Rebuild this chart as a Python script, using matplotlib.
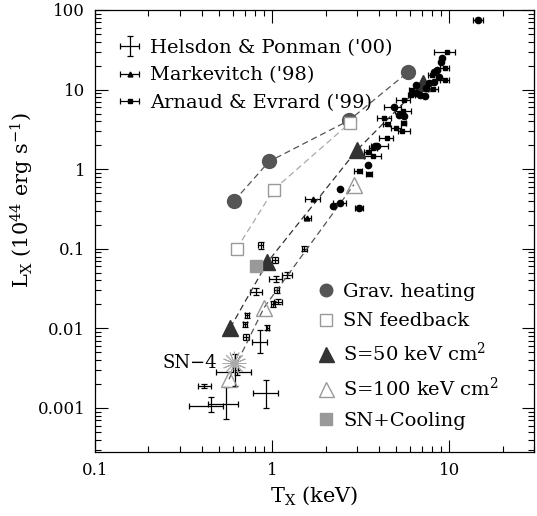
import matplotlib.pyplot as plt
from matplotlib.ticker import FuncFormatter, LogLocator

plt.rcParams['font.family'] = 'DejaVu Serif'
plt.rcParams['mathtext.fontset'] = 'dejavuserif'

# -----------------------
# Model tracks
# -----------------------
grav_T = [0.61, 0.96, 2.71, 5.8]
grav_L = [0.40, 1.25, 4.1, 16.4]
snf_T = [0.63, 1.02, 2.74]
snf_L = [0.10, 0.555, 3.8]
s50_T = [0.58, 0.94, 3.0, 7.1]
s50_L = [0.0102, 0.068, 1.73, 12.0]
s100_T = [0.57, 0.90, 2.89]
s100_L = [0.0023, 0.0183, 0.64]
sncool_T = [0.81]
sncool_L = [0.060]
sn4_T = [0.61]
sn4_L = [0.0037]

# -----------------------
# Helsdon & Ponman ('00): T, L with lower/upper bounds
# -----------------------
hp_T = [0.86, 1.52, 1.04, 1.21, 1.05, 1.06, 0.81, 1.08, 1.01, 0.72, 0.70, 0.94, 0.71,
        0.85, 0.635, 0.62, 0.41, 0.92, 0.45, 0.55]
hp_Tlo = [0.83, 1.47, 1.00, 1.13, 0.96, 1.03, 0.75, 1.03, 0.98, 0.70, 0.68, 0.92, 0.68,
          0.77, 0.48, 0.60, 0.38, 0.775, 0.34, 0.436]
hp_Thi = [0.89, 1.57, 1.08, 1.30, 1.14, 1.09, 0.87, 1.13, 1.04, 0.74, 0.72, 0.96, 0.74,
          0.94, 0.76, 0.64, 0.45, 1.08, 0.53, 0.64]
hp_L = [0.111, 0.10, 0.072, 0.047, 0.042, 0.0303, 0.029, 0.0216, 0.0201, 0.0146, 0.0113, 0.0102, 0.0077,
        0.0068, 0.0028, 0.0031, 0.0019, 0.00154, 0.00107, 0.00112]
hp_Llo = [0.100, 0.093, 0.066, 0.043, 0.038, 0.028, 0.026, 0.020, 0.0185, 0.0136, 0.0105, 0.0095, 0.0071,
          0.0049, 0.0026, 0.0019, 0.0018, 0.00099, 0.00088, 0.00073]
hp_Lhi = [0.122, 0.107, 0.078, 0.051, 0.046, 0.033, 0.032, 0.0235, 0.0218, 0.0157, 0.0121, 0.011, 0.0084,
          0.0096, 0.0030, 0.0047, 0.0020, 0.00226, 0.00138, 0.00183]

# -----------------------
# Markevitch ('98)
# -----------------------
mk_T = [1.69, 1.57]
mk_Tlo = [1.53, 1.51]
mk_Thi = [1.85, 1.65]
mk_L = [0.42, 0.245]

# -----------------------
# Arnaud & Evrard ('99)
# -----------------------
ae_T = [9.68, 9.4, 8.0, 9.4, 8.07, 6.17, 6.1, 5.52, 5.47, 4.27, 4.42, 5.52, 5.0, 5.43, 4.42,
        3.68, 3.47, 3.7, 3.07, 3.52]
ae_Tlo = [8.18, 8.9, 7.6, 8.9, 7.6, 5.9, 5.8, 5.0, 4.9, 3.9, 4.2, 5.3, 4.7, 5.1, 4.0,
          3.5, 3.3, 3.3, 2.9, 3.4]
ae_Thi = [10.7, 10.0, 8.4, 9.9, 8.6, 6.8, 6.4, 6.0, 6.1, 4.7, 4.6, 5.7, 5.3, 6.0, 4.8,
          3.9, 3.6, 4.1, 3.2, 3.65]
ae_L = [29.5, 18.6, 15.3, 13.3, 10.1, 9.9, 8.6, 7.3, 5.33, 4.4, 3.7, 3.8, 3.3, 3.05, 2.5,
        1.83, 1.66, 1.46, 0.94, 0.86]

# other clusters (filled circles)
oc_T = [14.5, 9.1, 8.98, 8.46, 8.2, 8.7, 8.14, 7.7, 7.4, 6.5, 6.8, 7.3, 6.5, 4.87, 5.2, 5.52,
        3.9, 3.79, 3.47, 2.4, 2.4, 2.2, 3.09]
oc_Tlo = [13.6, 9.1, 8.98, 8.46, 8.2, 8.7, 8.14, 7.7, 7.4, 6.5, 6.8, 7.3, 6.5, 4.3, 5.2, 5.52,
          3.6, 3.79, 3.47, 2.4, 2.2, 2.2, 2.95]
oc_Thi = [15.5, 9.1, 8.98, 8.46, 8.2, 8.7, 8.14, 7.7, 7.4, 6.5, 6.8, 7.3, 6.5, 5.3, 5.2, 5.52,
          4.5, 3.79, 3.47, 2.4, 2.6, 2.2, 3.25]
oc_L = [75, 25, 21.9, 17.7, 16.4, 14.3, 12.6, 12, 10.4, 11.3, 8.6, 8.3, 9.0, 5.97, 4.8, 4.6,
        1.98, 1.93, 1.14, 0.57, 0.38, 0.34, 0.326]


def err(v, lo, hi):
    return [[a - b for a, b in zip(v, lo)], [c - a for a, c in zip(v, hi)]]


fig = plt.figure(figsize=(5.37, 5.16), dpi=100)
ax = fig.add_axes([95/537, 1-452/516, 439/537, 442/516])
ax.set_xscale('log')
ax.set_yscale('log')
ax.set_xlim(0.1, 30)
ax.set_ylim(2.8e-4, 100)

kw = dict(color='black', ecolor='black', elinewidth=0.9, capsize=2.5, capthick=0.9, ls='none')
h_hp = ax.errorbar(hp_T, hp_L, xerr=err(hp_T, hp_Tlo, hp_Thi), yerr=err(hp_L, hp_Llo, hp_Lhi),
                   marker='none', **kw)
h_mk = ax.errorbar(mk_T, mk_L, xerr=err(mk_T, mk_Tlo, mk_Thi), marker='^', ms=3.5, **kw)
h_ae = ax.errorbar(ae_T, ae_L, xerr=err(ae_T, ae_Tlo, ae_Thi), marker='s', ms=3.5, **kw)
ax.errorbar(oc_T, oc_L, xerr=err(oc_T, oc_Tlo, oc_Thi), marker='o', ms=4.5, **kw)

# model tracks
dash = (0, (5, 3))
ax.plot(grav_T, grav_L, ls=dash, color='#555555', lw=0.9)
ax.plot(snf_T, snf_L, ls=dash, color='#aaaaaa', lw=0.9)
ax.plot(s50_T, s50_L, ls=dash, color='#333333', lw=0.9)
ax.plot(s100_T, s100_L, ls=dash, color='#555555', lw=0.9)

m1, = ax.plot(grav_T, grav_L, ls='none', marker='o', ms=10, color='#555555')
m2, = ax.plot(snf_T, snf_L, ls='none', marker='s', ms=9, mfc='white', mec='#999999', mew=1)
m3, = ax.plot(s50_T, s50_L, ls='none', marker='^', ms=12, color='#333333')
m4, = ax.plot(s100_T, s100_L, ls='none', marker='^', ms=12, mfc='none', mec='#999999', mew=1)
m5, = ax.plot(sncool_T, sncool_L, ls='none', marker='s', ms=9, color='#999999')
ax.plot(sn4_T, sn4_L, ls='none', marker=(8, 2, 0), ms=17, color='#aaaaaa', mew=0.7)
ax.plot(sn4_T, sn4_L, ls='none', marker=(8, 2, 22.5), ms=17, color='#aaaaaa', mew=0.7)
ax.text(0.49, 0.0037, 'SN\u22124', fontsize=13, ha='right', va='center')

# axes
fmt = FuncFormatter(lambda v, _: f'{v:g}')
ax.xaxis.set_major_formatter(fmt)
ax.yaxis.set_major_formatter(fmt)
ax.yaxis.set_major_locator(LogLocator(base=10, numticks=20))
ax.yaxis.set_minor_locator(LogLocator(base=10, subs=range(2, 10), numticks=20))
ax.tick_params(which='both', direction='in', top=True, right=True, labelsize=12, width=0.8)
ax.tick_params(which='major', length=9, pad=7)
ax.tick_params(which='minor', length=4.5)
for s in ax.spines.values():
    s.set_linewidth(0.9)

ax.set_xlabel(r'T$_{\rm X}$ (keV)', fontsize=15, labelpad=4)
ax.set_ylabel(r'L$_{\rm X}$ (10$^{44}$ erg s$^{-1}$)', fontsize=15)
ax.yaxis.set_label_coords(-0.135, 0.57)

leg1 = ax.legend([h_hp, h_mk, h_ae],
                 ["Helsdon & Ponman ('00)", "Markevitch ('98)", "Arnaud & Evrard ('99)"],
                 loc='upper left', bbox_to_anchor=(0.03, 0.957), frameon=False, fontsize=14,
                 handlelength=1.2, handletextpad=0.45, labelspacing=0.5, borderpad=0)
ax.add_artist(leg1)
ax.legend([m1, m2, m3, m4, m5],
          ['Grav. heating', 'SN feedback', r'S=50 keV cm$^2$', r'S=100 keV cm$^2$', 'SN+Cooling'],
          loc='upper left', bbox_to_anchor=(0.485, 0.405), frameon=False, fontsize=14,
          handlelength=0.9, handletextpad=0.4, labelspacing=0.6, borderpad=0, markerscale=0.9)

fig.savefig('out.png', dpi=100)
